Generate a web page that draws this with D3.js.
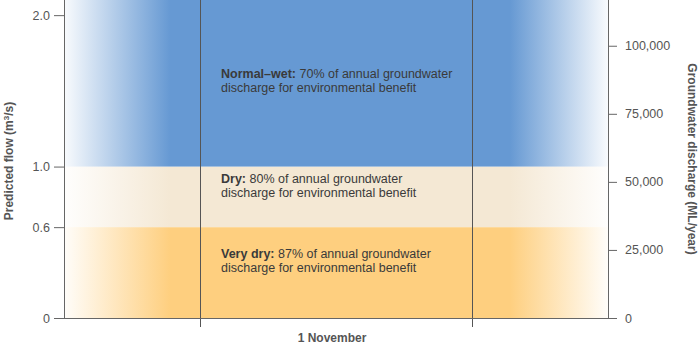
<!DOCTYPE html>
<html>
<head>
<meta charset="utf-8">
<script src="https://cdn.jsdelivr.net/npm/d3@7/dist/d3.min.js"></script>
<style>
  html, body { margin: 0; padding: 0; background: #fff; }
  svg { display: block; }
  text { font-family: "Liberation Sans", Arial, sans-serif; }
</style>
</head>
<body>
<svg id="chart" width="700" height="346"></svg>
<script>
// Flow regimes: lower/upper bounds in predicted flow (m3/s)
const regimeNames = ["Very dry", "Dry", "Normal–wet"];
const regimeLower = [0, 0.6, 1.0];
const regimeUpper = [0.6, 1.0, 2.1];
const regimeShare = [87, 80, 70];
const regimeColors = ["#fecf7f", "#f4e8d4", "#6699d3"];

// Axes
const flowTicks = [0, 0.6, 1.0, 2.0];
const flowMax = 2.1;
const dischargeTicks = [0, 25000, 50000, 75000, 100000];
const dischargeMax = 116800;

// Season positions (month steps across the plot)
const seasonDomain = [0, 4];
const seasonDividers = [1, 3];
const seasonLabelPos = 2;
const seasonLabel = "1 November";

const svg = d3.select("#chart");
const margin = { left: 64, right: 92, top: 0, bottom: 28 };
const W = 700, H = 346;
const x0 = margin.left, x1 = W - margin.right;
const y0 = H - margin.bottom, y1 = margin.top;

const x = d3.scaleLinear().domain(seasonDomain).range([x0, x1]);
const yFlow = d3.scaleLinear().domain([0, flowMax]).range([y0, y1]);
const yDis = d3.scaleLinear().domain([0, dischargeMax]).range([y0, y1]);

// Horizontal fades at both ends of each band
const defs = svg.append("defs");
regimeColors.forEach((c, i) => {
  const g = defs.append("linearGradient")
    .attr("id", "fade" + i)
    .attr("x1", "0").attr("x2", "1").attr("y1", "0").attr("y2", "0");
  [[0, 0.04], [0.195, 1], [0.82, 1], [1, 0.04]].forEach(([o, a]) => {
    g.append("stop").attr("offset", o).attr("stop-color", c).attr("stop-opacity", a);
  });
});

svg.append("g").selectAll("rect")
  .data(regimeNames)
  .join("rect")
  .attr("x", x(seasonDomain[0]))
  .attr("width", x(seasonDomain[1]) - x(seasonDomain[0]))
  .attr("y", (d, i) => yFlow(regimeUpper[i]))
  .attr("height", (d, i) => yFlow(regimeLower[i]) - yFlow(regimeUpper[i]))
  .attr("fill", (d, i) => `url(#fade${i})`);

// Season dividers
svg.append("g").selectAll("line")
  .data(seasonDividers)
  .join("line")
  .attr("x1", d => Math.round(x(d)) + 0.5)
  .attr("x2", d => Math.round(x(d)) + 0.5)
  .attr("y1", y1)
  .attr("y2", y0 + 9)
  .attr("stroke", "#555")
  .attr("stroke-width", 1);

// Band annotations
const ann = svg.append("g").attr("fill", "#3a3a3a").style("font-size", "12.5px");
regimeNames.forEach((name, i) => {
  const top = yFlow(regimeUpper[i]);
  const off = i === 2 ? 78 - top : (i === 1 ? 16 : 31);
  const ty = top + off;
  const t = ann.append("text").attr("x", x(1) + 21).attr("y", ty);
  t.append("tspan").attr("font-weight", "bold").text(name + ":");
  t.append("tspan").text(` ${regimeShare[i]}% of annual groundwater`);
  ann.append("text").attr("x", x(1) + 21).attr("y", ty + 14)
    .text("discharge for environmental benefit");
});

// Left axis
const leftAxis = svg.append("g")
  .attr("transform", `translate(${x0},0)`)
  .call(d3.axisLeft(yFlow).tickValues(flowTicks).tickSize(10).tickPadding(4)
    .tickFormat(d => d === 0 ? "0" : d3.format(".1f")(d)));
leftAxis.select(".domain").attr("d", `M0.5,${y1}V${y0}`);

// Right axis
const rightAxis = svg.append("g")
  .attr("transform", `translate(${x1},0)`)
  .call(d3.axisRight(yDis).tickValues(dischargeTicks).tickSize(9).tickPadding(8)
    .tickFormat(d3.format(",")));
rightAxis.select(".domain").attr("d", `M0.5,${y1}V${y0}`);

[leftAxis, rightAxis].forEach(a => {
  a.select(".domain").attr("stroke", "#666");
  a.selectAll(".tick line").attr("stroke", "#666");
  a.selectAll(".tick text").attr("fill", "#555").style("font-size", "12.5px")
    .style("font-family", "'Liberation Sans', Arial, sans-serif");
});

// Baseline
svg.append("line")
  .attr("x1", x0).attr("x2", x1 + 0.5)
  .attr("y1", Math.round(y0) + 0.5).attr("y2", Math.round(y0) + 0.5)
  .attr("stroke", "#666");

// Axis titles
svg.append("text")
  .attr("transform", `translate(13,${(y0 + y1) / 2 + 2}) rotate(-90)`)
  .attr("text-anchor", "middle")
  .attr("fill", "#555").attr("font-weight", "bold").style("font-size", "12px")
  .html("Predicted flow (m<tspan dy='-4' style='font-size:8px'>3</tspan><tspan dy='4'>/s)</tspan>");

svg.append("text")
  .attr("transform", `translate(688,${(y0 + y1) / 2}) rotate(90)`)
  .attr("text-anchor", "middle")
  .attr("fill", "#555").attr("font-weight", "bold").style("font-size", "12px")
  .text("Groundwater discharge (ML/year)");

svg.append("text")
  .attr("x", x(seasonLabelPos) - 4)
  .attr("y", 342)
  .attr("text-anchor", "middle")
  .attr("fill", "#555").attr("font-weight", "bold").style("font-size", "12px")
  .text(seasonLabel);
</script>
</body>
</html>
